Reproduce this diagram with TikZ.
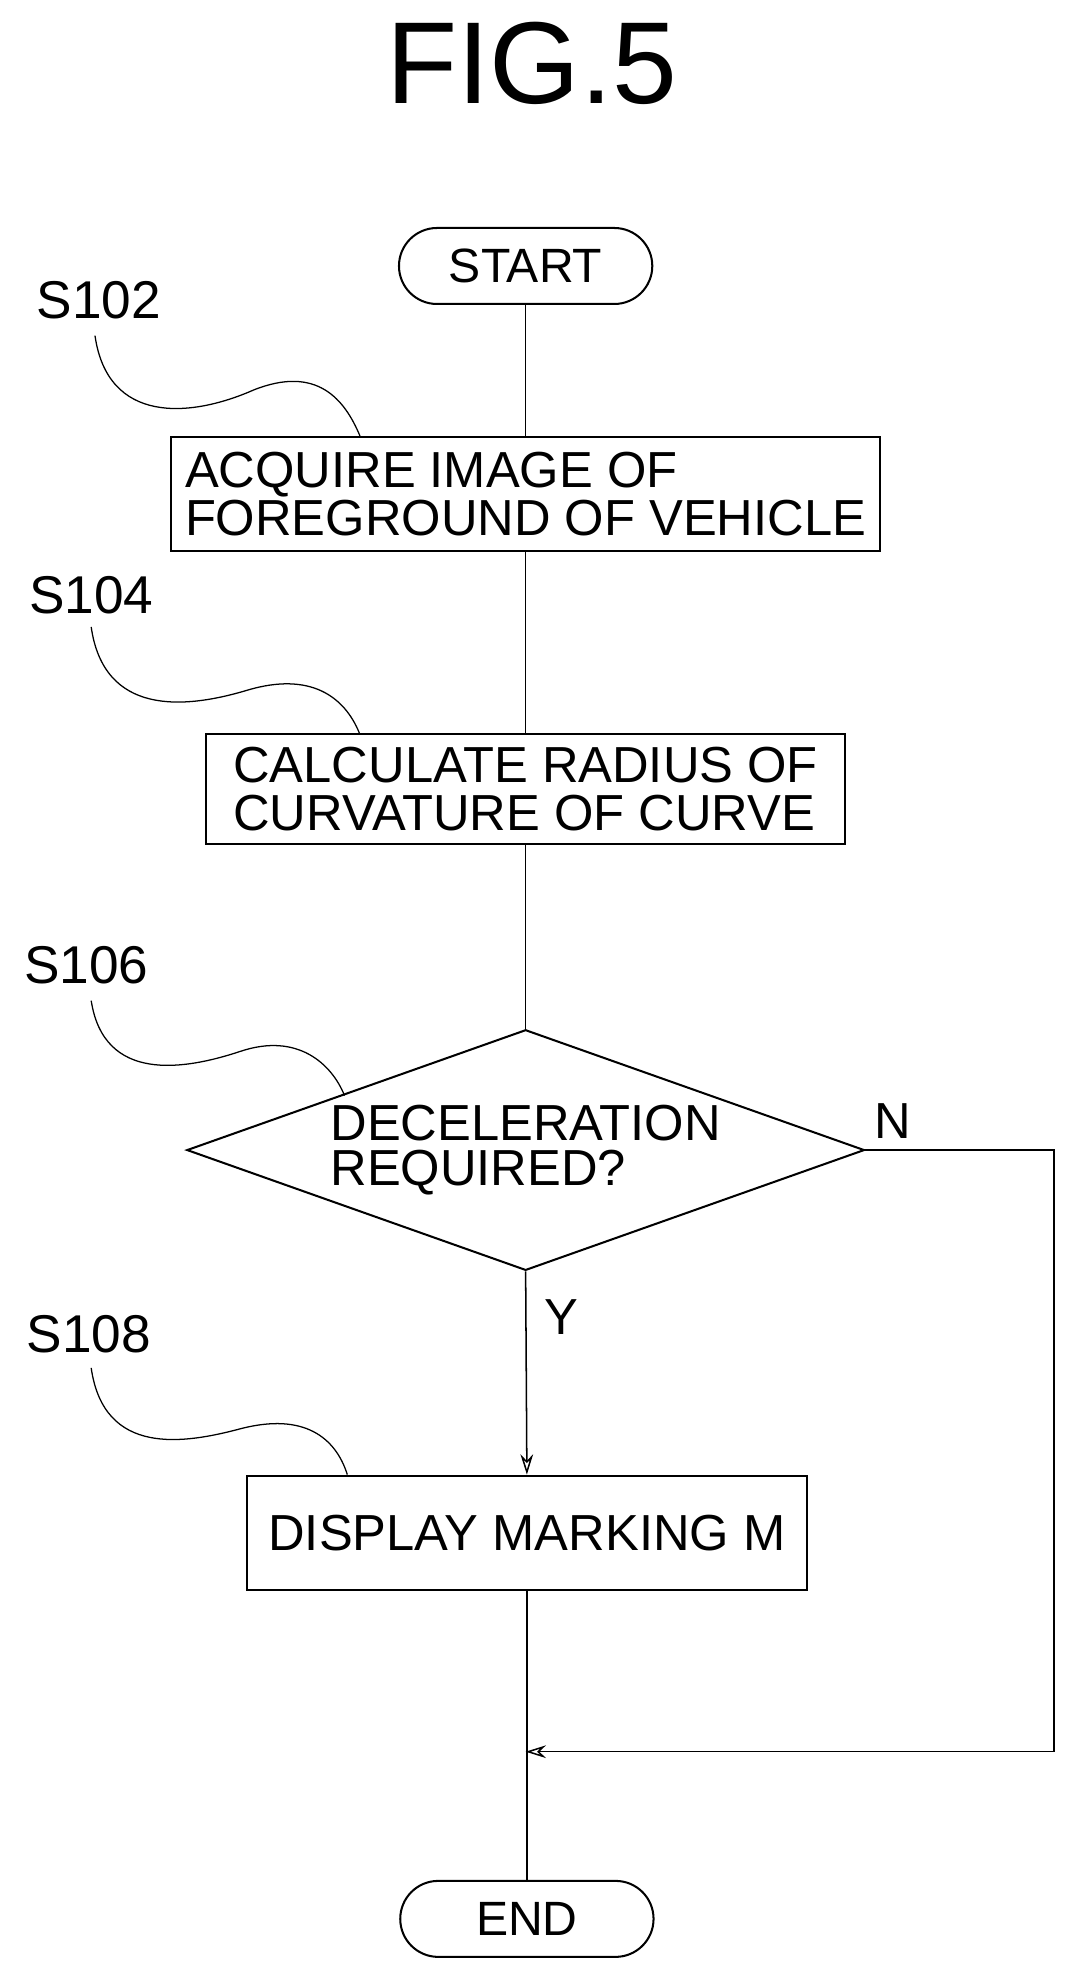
\documentclass[tikz,border=0pt]{standalone}
\usepackage{fontspec}
\setmainfont{Liberation Sans}
\usetikzlibrary{shapes.geometric,positioning,arrows.meta}

\tikzset{
  box/.style={draw, line width=1.6pt, inner sep=0pt, font=\fontsize{40}{38}\selectfont, align=left},
  term/.style={draw, line width=1.6pt, rounded corners=30pt, minimum width=200pt, minimum height=60pt, font=\fontsize{38}{38}\selectfont},
  dec/.style={draw, diamond, shape aspect=2.8, line width=1.6pt, minimum width=535pt, minimum height=190pt, inner sep=0pt, font=\fontsize{40}{36}\selectfont, align=left},
  steplabel/.style={font=\fontsize{42}{42}\selectfont},
  lead/.style={line width=1pt},
  flow/.style={line width=1.2pt},
  arr/.style={flow, -{Stealth[length=16pt,width=10pt,open]}}
}

\begin{document}
\begin{tikzpicture}[x=1pt,y=-1pt]
\useasboundingbox (0,0) rectangle (850,1568);
\node[font=\fontsize{92}{92}\selectfont] (fig) at (420,50) {FIG.5};

\node[term] (start) at (415,210) {START};
\node[box, minimum width=560pt, minimum height=90pt] (acq) at (415,390) {ACQUIRE IMAGE OF\\FOREGROUND OF VEHICLE};
\node[box, minimum width=505pt, minimum height=87pt, align=left] (calc) at (415,623) {CALCULATE RADIUS OF\\CURVATURE OF CURVE};
\node[dec] (req) at (415,908) {DECELERATION\\REQUIRED?};
\node[box, minimum width=442pt, minimum height=90pt] (disp) at (416,1210) {DISPLAY MARKING M};
\node[term] (end) at (416,1515) {END};

% step labels
\node[steplabel] (s102) at (78,237) {S102};
\node[steplabel] (s104) at (72,470) {S104};
\node[steplabel] (s106) at (68,762) {S106};
\node[steplabel] (s108) at (70,1053) {S108};

\node[font=\fontsize{40}{40}\selectfont] (no) at (705,885) {N};
\node[font=\fontsize{40}{40}\selectfont] (yes) at (443,1040) {Y};

\coordinate (ret) at (832,1383);
\coordinate (join) at (415,1383);

% connectors
\draw[flow] (start) -- (acq);
\draw[flow] (acq) -- (calc);
\draw[flow] (calc) -- (req);
\draw[arr] (req.south) -- (disp.north);
\draw[flow] (disp) -- (end);
\draw[flow] (req.east) -| (ret);
\draw[arr] (ret) -- (join);

% leader lines
\draw[lead] (75,265) .. controls (85,335) and (150,330) .. (200,308) .. controls (250,288) and (272,315) .. ([xshift=150pt]acq.north west);
\draw[lead] (72,495) .. controls (82,565) and (145,560) .. (195,545) .. controls (245,530) and (272,550) .. ([xshift=122pt]calc.north west);
\draw[lead] (72,790) .. controls (82,855) and (145,845) .. (190,830) .. controls (235,815) and (262,840) .. (272,865);
\draw[lead] (72,1080) .. controls (82,1150) and (145,1140) .. (190,1128) .. controls (240,1115) and (265,1135) .. ([xshift=80pt]disp.north west);
\end{tikzpicture}
\end{document}
